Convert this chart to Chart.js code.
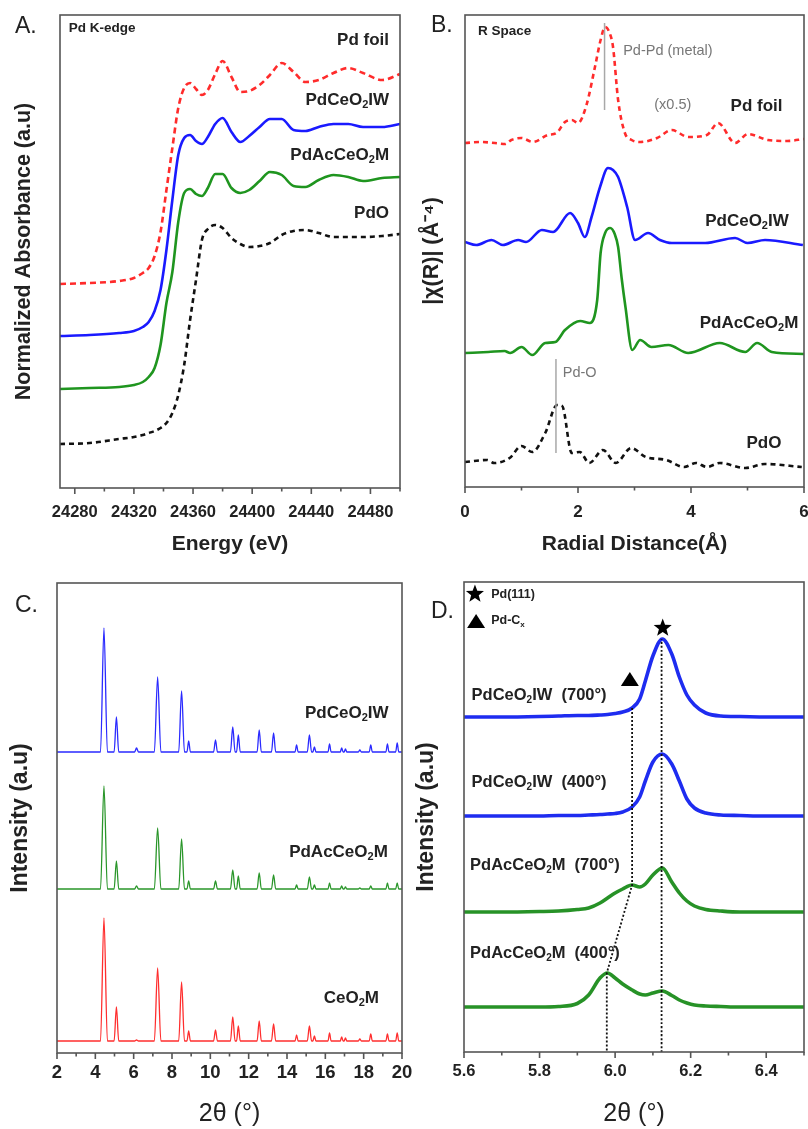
<!DOCTYPE html>
<html>
<head>
<meta charset="utf-8">
<title>Pd K-edge / R space / XRD</title>
<script src="https://cdn.jsdelivr.net/npm/chart.js@4.4.0/dist/chart.umd.min.js"></script>
<style>
  body { margin: 0; background: #fff; width: 808px; height: 1129px; position: relative; overflow: hidden; }
  canvas { position: absolute; }
</style>
</head>
<body>
<canvas id="chartA" width="430" height="560" style="left:0;top:0"></canvas>
<canvas id="chartB" width="430" height="560" style="left:404px;top:0"></canvas>
<canvas id="chartC" width="430" height="569" style="left:0;top:560px"></canvas>
<canvas id="chartD" width="430" height="569" style="left:404px;top:560px"></canvas>
<script>
// ---- A: Pd K-edge XANES (energy in eV, normalized absorbance, stacked a.u.)
const energy = [24270, 24290, 24310, 24320, 24326, 24330, 24334, 24338, 24342, 24346, 24350, 24354,
  24358, 24362, 24366, 24370, 24375, 24380, 24386, 24392, 24398, 24405, 24412, 24420,
  24428, 24436, 24445, 24455, 24465, 24475, 24488, 24500];
const xanesFoil = [204, 205, 207, 210, 215, 220, 232, 256, 298, 340, 380, 400, 405, 399, 393, 398,
  414, 427, 411, 396, 397, 403, 413, 425, 416, 406, 408, 415, 420, 415, 408, 414];
const xanesIW = [152, 153, 155, 157, 161, 166, 177, 198, 238, 288, 333, 350, 353, 347, 344, 351,
  364, 370, 356, 346, 352, 361, 369, 369, 358, 357, 361, 364, 364, 361, 361, 364];
const xanesAcM = [99, 100, 101, 103, 106, 111, 120, 143, 185, 216, 266, 295, 299, 294, 292, 300,
  314, 314, 300, 295, 298, 307, 316, 313, 302, 301, 308, 313, 311, 307, 310, 311];
const xanesPdO = [44, 45, 49, 51, 53, 55, 57, 60, 65, 75, 93, 123, 168, 208, 248, 259,
  263, 260, 250, 244, 241, 242, 245, 253, 257, 258, 255, 251, 251, 251, 252, 254];

// ---- B: R space |chi(R)|
const rFoil = [0, 0.29, 0.53, 0.71, 0.82, 1.0, 1.2, 1.47, 1.62, 1.77, 1.89, 2.0, 2.15, 2.3, 2.4, 2.48,
  2.56, 2.62, 2.71, 2.83, 2.95, 3.1, 3.4, 3.66, 3.95, 4.28, 4.48, 4.78, 5.01, 5.36, 5.7, 6.0];
const chiFoil = [344, 345, 344, 343, 347, 349, 345, 352, 354, 365, 367, 364, 382, 420, 447, 460,
  454, 440, 387, 354, 347, 345, 349, 357, 350, 352, 364, 344, 353, 347, 346, 348];
const rIW = [0, 0.2, 0.47, 0.67, 0.94, 1.08, 1.36, 1.56, 1.86, 2.0, 2.12, 2.24, 2.39, 2.53, 2.62, 2.71,
  2.87, 3.01, 3.24, 3.45, 3.66, 4.25, 4.78, 5.0, 5.31, 5.98];
const chiIW = [245, 242, 247, 242, 247, 245, 257, 255, 274, 264, 250, 270, 300, 319, 317, 310,
  280, 247, 254, 247, 244, 244, 249, 244, 247, 242];
const rAcM = [0, 0.41, 0.7, 0.8, 1.0, 1.19, 1.42, 1.6, 1.77, 2.04, 2.21, 2.34, 2.4, 2.48, 2.57, 2.65,
  2.71, 2.77, 2.84, 2.96, 3.1, 3.3, 3.6, 3.95, 4.51, 4.96, 5.17, 5.43, 6.0];
const chiAcM = [134, 135, 136, 134, 140, 132, 144, 145, 157, 166, 164, 187, 234, 254, 259, 253,
  240, 210, 180, 137, 147, 140, 142, 134, 144, 135, 144, 135, 133];
const rPdO = [0, 0.39, 0.52, 0.79, 1.0, 1.19, 1.42, 1.63, 1.72, 1.89, 2.03, 2.2, 2.44, 2.67, 2.94, 3.2,
  3.56, 3.88, 4.09, 4.28, 4.51, 4.96, 5.31, 5.96];
const chiPdO = [25, 27, 24, 29, 41, 35, 54, 82, 81, 34, 35, 24, 37, 24, 39, 30,
  27, 20, 24, 20, 24, 19, 23, 20];
const pdPdLineR = [2.47, 2.47], pdPdLineY = [377, 464];
const pdOLineR = [1.61, 1.61], pdOLineY = [34, 128];

// ---- C: XRD patterns, 2theta (deg), intensity above each baseline
const xrdTheta = [2.0, 3.0, 4.27, 4.45, 4.63, 4.98, 5.10, 5.22, 6.05, 6.15, 6.25, 7.08, 7.25, 7.42,
  8.35, 8.50, 8.65, 8.78, 8.87, 8.96, 10.17, 10.27, 10.37, 11.05, 11.17, 11.29, 11.37, 11.46, 11.56,
  12.44, 12.55, 12.66, 13.19, 13.30, 13.41, 14.42, 14.50, 14.58, 15.06, 15.17, 15.28, 15.35, 15.43, 15.51,
  16.14, 16.22, 16.30, 16.78, 16.85, 16.93, 16.98, 17.05, 17.12, 17.72, 17.80, 17.88, 18.29, 18.37, 18.45,
  19.16, 19.24, 19.32, 19.67, 19.75, 19.83, 20.0];
const xrdIW = [0, 0, 0, 124, 0, 0, 35, 0, 0, 4, 0, 0, 75, 0, 0, 61, 0, 0, 11, 0, 0, 12, 0, 0, 25, 0, 0, 17, 0,
  0, 22, 0, 0, 19, 0, 0, 7, 0, 0, 17, 0, 0, 5, 0, 0, 8, 0, 0, 4, 0, 0, 3, 0, 0, 2, 0, 0, 7, 0, 0, 8, 0, 0, 9, 0, 0];
const xrdAcM = [0, 0, 0, 103, 0, 0, 28, 0, 0, 3, 0, 0, 61, 0, 0, 50, 0, 0, 8, 0, 0, 8, 0, 0, 19, 0, 0, 13, 0,
  0, 16, 0, 0, 14, 0, 0, 4, 0, 0, 12, 0, 0, 4, 0, 0, 6, 0, 0, 3, 0, 0, 2, 0, 0, 1, 0, 0, 3, 0, 0, 6, 0, 0, 6, 0, 0];
const xrdCeO2M = [0, 0, 0, 123, 0, 0, 34, 0, 0, 1, 0, 0, 73, 0, 0, 59, 0, 0, 10, 0, 0, 11, 0, 0, 24, 0, 0, 15, 0,
  0, 20, 0, 0, 17, 0, 0, 6, 0, 0, 15, 0, 0, 5, 0, 0, 8, 0, 0, 4, 0, 0, 3, 0, 0, 2, 0, 0, 7, 0, 0, 7, 0, 0, 8, 0, 0];
const xrdOffsets = { iw: 301, acm: 164, ceo2m: 12 };

// ---- D: Pd(111) region
const dTheta = [5.60, 5.70, 5.80, 5.85, 5.90, 5.93, 5.96, 5.98, 6.00, 6.02, 6.045, 6.065,
  6.08, 6.10, 6.125, 6.15, 6.17, 6.19, 6.21, 6.24, 6.28, 6.33, 6.40, 6.50];
const iw700 = [0, 0, 0.5, 1, 1.5, 1.5, 2, 2.5, 3.5, 5, 9, 18, 36, 61, 78, 63, 40, 22, 12, 4, 1, 0.5, 0, 0];
const iw400 = [0, 0, 0, 0.5, 0.5, 1, 1.5, 2, 2.5, 4, 9, 19, 35, 54, 62, 52, 35, 17, 8, 3, 1, 0.5, 0, 0];
const acm700 = [0, 0, 0.5, 1, 2.5, 4, 9, 14, 19, 23, 27, 25, 28, 37, 44, 30, 19, 11, 6, 2.5, 1, 0, 0, 0];
const acm400 = [0, 0, 0, 0.5, 3.5, 12, 29, 34, 29, 23, 17, 13, 12, 14, 16, 11.5, 7, 4, 2, 1, 0.5, 0, 0, 0];
const dOffsets = { iw700: 335, iw400: 236, acm700: 140, acm400: 45 };
const pd111X = [6.123, 6.123], pd111Y = [0, 413];
const pdCxX = [6.045, 6.045, 5.978, 5.978], pdCxY = [344, 167, 79, 0];

// ---------------------------------------------------------------
const FAM = '"Liberation Sans", Arial, Helvetica, sans-serif';
const BLUE = '#1a1aff', GREEN = '#1f951f', RED = '#ff2b2b', BLACK = '#111';

function pts(xs, ys, off) {
  return xs.map((x, i) => ({ x: x, y: ys[i] + (off || 0) }));
}

function line(xs, ys, color, width, dash, off) {
  return {
    data: pts(xs, ys, off), borderColor: color, borderWidth: width,
    borderDash: dash || [], pointRadius: 0, fill: false,
    cubicInterpolationMode: 'monotone'
  };
}

function drawRich(ctx, str, x, y, o) {
  const parts = [];
  for (let i = 0; i < str.length; i++) {
    if (str[i] === '_') { parts.push({ t: str[i + 1], sub: true }); i++; }
    else if (parts.length && !parts[parts.length - 1].sub) parts[parts.length - 1].t += str[i];
    else parts.push({ t: str[i], sub: false });
  }
  const w = o.bold ? 'bold ' : '';
  const big = w + o.size + 'px ' + FAM;
  const small = w + Math.round(o.size * 0.62) + 'px ' + FAM;
  ctx.save();
  ctx.fillStyle = o.color || '#222';
  ctx.textBaseline = 'middle';
  ctx.textAlign = 'left';
  let total = 0;
  parts.forEach(p => { ctx.font = p.sub ? small : big; p.w = ctx.measureText(p.t).width; total += p.w; });
  let cx = o.align === 'right' ? x - total : x;
  parts.forEach(p => {
    ctx.font = p.sub ? small : big;
    ctx.fillText(p.t, cx, p.sub ? y + o.size * 0.3 : y);
    cx += p.w;
  });
  ctx.restore();
}

function star(ctx, cx, cy, R) {
  ctx.beginPath();
  for (let i = 0; i < 10; i++) {
    const a = -Math.PI / 2 + i * Math.PI / 5;
    const r = i % 2 ? R * 0.42 : R;
    ctx.lineTo(cx + r * Math.cos(a), cy + r * Math.sin(a));
  }
  ctx.closePath();
  ctx.fill();
}

function triangle(ctx, cx, cy, w, h) {
  ctx.beginPath();
  ctx.moveTo(cx, cy - h / 2);
  ctx.lineTo(cx + w / 2, cy + h / 2);
  ctx.lineTo(cx - w / 2, cy + h / 2);
  ctx.closePath();
  ctx.fill();
}

function buildChart(id, p) {
  const framePlugin = {
    id: 'frame' + id,
    afterDatasetsDraw(chart) {
      const { ctx, chartArea: a, scales: { x, y } } = chart;
      ctx.save();
      ctx.strokeStyle = '#555';
      ctx.lineWidth = 1.6;
      ctx.strokeRect(a.left, a.top, a.right - a.left, a.bottom - a.top);
      ctx.beginPath();
      x.ticks.forEach(t => {
        const px = x.getPixelForValue(t.value);
        const len = p.isMajor(t.value) ? 6 : 3.5;
        ctx.moveTo(px, a.bottom);
        ctx.lineTo(px, a.bottom + len);
      });
      ctx.stroke();
      ctx.fillStyle = '#222';
      ctx.font = '23px ' + FAM;
      ctx.textBaseline = 'middle';
      ctx.fillText(p.letter[0], p.letter[1], p.letter[2]);
      ctx.restore();
      (p.labels || []).forEach(l => {
        drawRich(ctx, l.text, x.getPixelForValue(l.x), y.getPixelForValue(l.y), l);
      });
      if (p.extra) p.extra(ctx, x, y);
    }
  };
  return new Chart(document.getElementById(id), {
    type: 'line',
    data: { datasets: p.datasets },
    options: {
      responsive: false,
      animation: false,
      layout: { padding: { left: 0, top: p.area.t, right: p.W - p.area.r, bottom: 0 } },
      plugins: { legend: { display: false }, tooltip: { enabled: false } },
      scales: {
        x: {
          type: 'linear', min: p.xMin, max: p.xMax,
          afterFit: s => { s.height = p.H - p.area.b; },
          grid: { display: false }, border: { display: false },
          ticks: {
            stepSize: p.step, includeBounds: false, autoSkip: false, maxRotation: 0,
            padding: p.tickPad, color: '#222',
            font: { family: FAM, size: p.tickSize, weight: 'bold' },
            callback: v => p.isMajor(v) ? p.fmt(v) : ''
          },
          title: {
            display: true, text: p.xTitle, color: '#222',
            font: { family: FAM, size: p.xTitleSize, weight: p.xTitleWeight },
            padding: { top: 0, bottom: p.xTitlePad }
          }
        },
        y: {
          type: 'linear', min: 0, max: p.yMax,
          afterFit: s => { s.width = p.area.l; },
          grid: { display: false }, border: { display: false },
          ticks: { display: false },
          title: {
            display: true, text: p.yTitle, color: '#222',
            font: { family: FAM, size: p.yTitleSize, weight: 'bold' },
            padding: { top: p.yTitlePad, bottom: 0 }
          }
        }
      }
    },
    plugins: [framePlugin]
  });
}

// ---- Panel A
buildChart('chartA', {
  W: 430, H: 560, area: { l: 60, r: 400, t: 15, b: 488 },
  xMin: 24270, xMax: 24500, step: 20, yMax: 473,
  isMajor: v => (v - 24280) % 40 === 0, fmt: v => String(v),
  tickSize: 16.5, tickPad: 7,
  xTitle: 'Energy (eV)', xTitleSize: 21, xTitleWeight: 'bold', xTitlePad: 3,
  yTitle: 'Normalized Absorbance (a.u)', yTitleSize: 21.5, yTitlePad: 11,
  letter: ['A.', 15, 27],
  datasets: [
    line(energy, xanesFoil, RED, 2.6, [6, 4]),
    line(energy, xanesIW, BLUE, 2.6),
    line(energy, xanesAcM, GREEN, 2.6),
    line(energy, xanesPdO, BLACK, 2.6, [5, 4])
  ],
  labels: [
    { text: 'Pd K-edge', x: 24276, y: 460, size: 13.5, bold: true },
    { text: 'Pd foil', x: 24492.6, y: 448, size: 17, bold: true, align: 'right' },
    { text: 'PdCeO_2IW', x: 24492.6, y: 388, size: 17, bold: true, align: 'right' },
    { text: 'PdAcCeO_2M', x: 24492.6, y: 333, size: 17, bold: true, align: 'right' },
    { text: 'PdO', x: 24492.6, y: 275, size: 17, bold: true, align: 'right' }
  ]
});

// ---- Panel B
buildChart('chartB', {
  W: 430, H: 560, area: { l: 61, r: 400, t: 15, b: 487 },
  xMin: 0, xMax: 6, step: 1, yMax: 472,
  isMajor: v => v % 2 === 0, fmt: v => String(v),
  tickSize: 17, tickPad: 7,
  xTitle: 'Radial Distance(Å)', xTitleSize: 21, xTitleWeight: 'bold', xTitlePad: 3,
  yTitle: '|χ(R)| (Å⁻⁴)', yTitleSize: 21.5, yTitlePad: 15,
  letter: ['B.', 27, 26],
  datasets: [
    line(pdPdLineR, pdPdLineY, '#a8a8a8', 1.5),
    line(pdOLineR, pdOLineY, '#a8a8a8', 1.5),
    line(rFoil, chiFoil, RED, 2.6, [5, 4]),
    line(rIW, chiIW, BLUE, 2.6),
    line(rAcM, chiAcM, GREEN, 2.6),
    line(rPdO, chiPdO, BLACK, 2.6, [5, 4])
  ],
  labels: [
    { text: 'R Space', x: 0.23, y: 456, size: 13.5, bold: true },
    { text: 'Pd-Pd (metal)', x: 2.8, y: 436, size: 14.5, color: '#777' },
    { text: '(x0.5)', x: 3.35, y: 382, size: 14.5, color: '#777' },
    { text: 'Pd foil', x: 5.62, y: 381, size: 17, bold: true, align: 'right' },
    { text: 'PdCeO_2IW', x: 5.73, y: 266, size: 17, bold: true, align: 'right' },
    { text: 'PdAcCeO_2M', x: 5.9, y: 164, size: 17, bold: true, align: 'right' },
    { text: 'Pd-O', x: 1.73, y: 114, size: 14.5, color: '#777' },
    { text: 'PdO', x: 5.6, y: 44, size: 17, bold: true, align: 'right' }
  ]
});

// ---- Panel C
buildChart('chartC', {
  W: 430, H: 569, area: { l: 57, r: 402, t: 23, b: 493 },
  xMin: 2, xMax: 20, step: 1, yMax: 470,
  isMajor: v => v % 2 === 0, fmt: v => String(v),
  tickSize: 18.5, tickPad: 1,
  xTitle: '2θ (°)', xTitleSize: 25, xTitleWeight: 'normal', xTitlePad: 0,
  yTitle: 'Intensity (a.u)', yTitleSize: 23, yTitlePad: 7,
  letter: ['C.', 15, 46],
  datasets: [
    line(xrdTheta, xrdIW, '#2a2aff', 1.3, null, xrdOffsets.iw),
    line(xrdTheta, xrdAcM, '#2a962a', 1.3, null, xrdOffsets.acm),
    line(xrdTheta, xrdCeO2M, '#ff2e2e', 1.3, null, xrdOffsets.ceo2m)
  ],
  labels: [
    { text: 'PdCeO_2IW', x: 19.3, y: 340, size: 17, bold: true, align: 'right' },
    { text: 'PdAcCeO_2M', x: 19.26, y: 201, size: 17, bold: true, align: 'right' },
    { text: 'CeO_2M', x: 18.8, y: 55, size: 17, bold: true, align: 'right' }
  ]
});

// ---- Panel D
buildChart('chartD', {
  W: 430, H: 569, area: { l: 60, r: 400, t: 22, b: 492 },
  xMin: 5.6, xMax: 6.5, step: 0.1, yMax: 470,
  isMajor: v => Math.round(v * 10) % 2 === 0, fmt: v => v.toFixed(1),
  tickSize: 16.5, tickPad: 2,
  xTitle: '2θ (°)', xTitleSize: 25, xTitleWeight: 'normal', xTitlePad: 0,
  yTitle: 'Intensity (a.u)', yTitleSize: 23, yTitlePad: 9,
  letter: ['D.', 27, 52],
  datasets: [
    line(pd111X, pd111Y, '#111', 1.8, [2, 2]),
    { data: pts(pdCxX, pdCxY), borderColor: '#111', borderWidth: 1.8, borderDash: [2, 2], pointRadius: 0, fill: false, tension: 0 },
    line(dTheta, iw700, '#1e2cf0', 3.6, null, dOffsets.iw700),
    line(dTheta, iw400, '#1e2cf0', 3.6, null, dOffsets.iw400),
    line(dTheta, acm700, '#279227', 3.6, null, dOffsets.acm700),
    line(dTheta, acm400, '#279227', 3.6, null, dOffsets.acm400)
  ],
  labels: [
    { text: 'PdCeO_2IW  (700°)', x: 5.62, y: 357, size: 16.5, bold: true },
    { text: 'PdCeO_2IW  (400°)', x: 5.62, y: 270, size: 16.5, bold: true },
    { text: 'PdAcCeO_2M  (700°)', x: 5.616, y: 187, size: 16.5, bold: true },
    { text: 'PdAcCeO_2M  (400°)', x: 5.616, y: 99, size: 16.5, bold: true },
    { text: 'Pd(111)', x: 5.672, y: 457, size: 12.5, bold: true },
    { text: 'Pd-C_x', x: 5.672, y: 431, size: 12.5, bold: true }
  ],
  extra: (ctx, x, y) => {
    ctx.save();
    ctx.fillStyle = '#000';
    star(ctx, x.getPixelForValue(5.629), y.getPixelForValue(458), 9.5);
    star(ctx, x.getPixelForValue(6.126), y.getPixelForValue(424), 9.5);
    triangle(ctx, x.getPixelForValue(5.632), y.getPixelForValue(431), 18, 14);
    triangle(ctx, x.getPixelForValue(6.039), y.getPixelForValue(373), 18, 14);
    ctx.restore();
  }
});
</script>
</body>
</html>
